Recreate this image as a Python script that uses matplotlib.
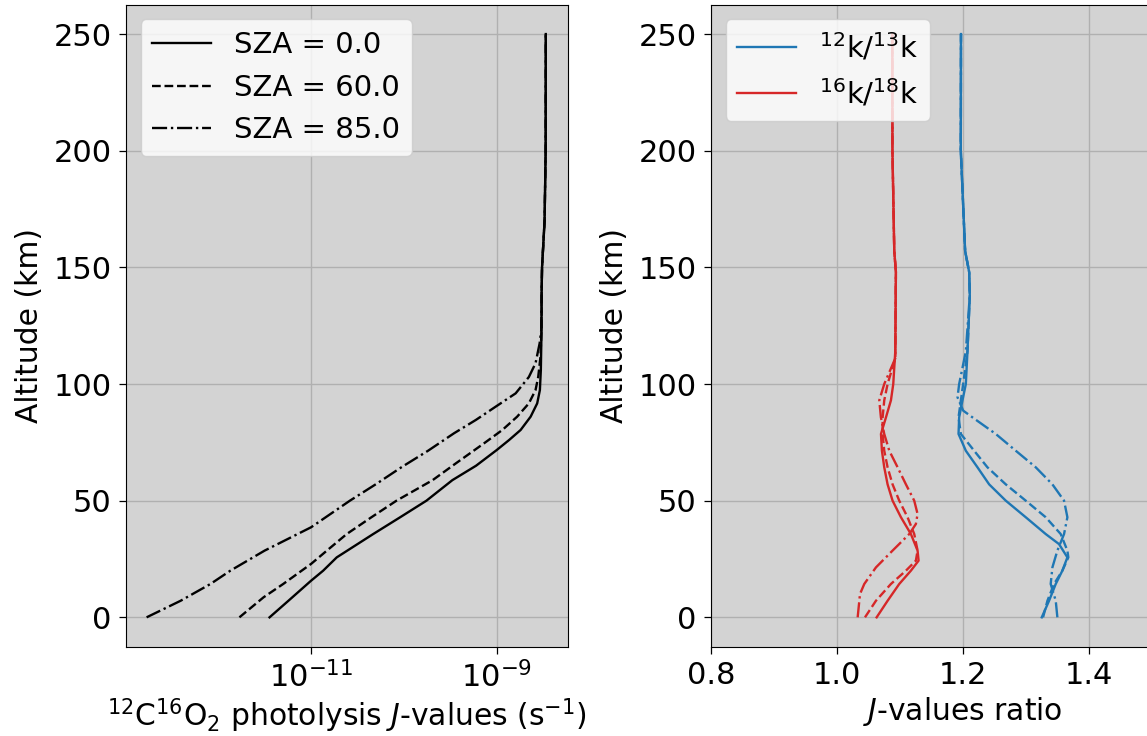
import matplotlib
matplotlib.use("Agg")
import matplotlib.pyplot as plt
from matplotlib.ticker import FixedLocator, NullLocator
from matplotlib.lines import Line2D

# ---------------- Left panel data: J-values (s^-1) vs altitude (km) ----------------
alt_sza0 = [0, 7.1, 15.7, 20, 25.7, 35.7, 42.9, 50, 58.8, 65, 71.7, 76, 80.3, 86, 91.7,
            97.4, 106, 123, 140, 150, 170, 200, 250]
j_sza0 = [3.57e-12, 5.70e-12, 1.00e-11, 1.35e-11, 1.89e-11, 4.67e-11, 9.12e-11, 1.75e-10,
          3.33e-10, 6.00e-10, 1.00e-9, 1.36e-9, 1.81e-9, 2.32e-9, 2.73e-9,
          2.92e-9, 2.99e-9, 3.04e-9, 3.05e-9, 3.08e-9, 3.28e-9, 3.37e-9, 3.38e-9]

alt_sza60 = [0, 8.6, 14.3, 22.9, 28.6, 35.7, 42.9, 50, 58.8, 66, 74.6, 80.3, 86, 91.7,
             97.4, 103, 111.6, 123, 140, 150, 170, 200, 250]
j_sza60 = [1.69e-12, 3.08e-12, 5.01e-12, 1.00e-11, 1.48e-11, 2.42e-11, 4.47e-11, 8.32e-11,
           2.04e-10, 3.63e-10, 7.31e-10, 1.15e-9, 1.66e-9, 2.22e-9,
           2.62e-9, 2.80e-9, 2.96e-9, 3.04e-9, 3.05e-9, 3.08e-9, 3.28e-9, 3.37e-9, 3.38e-9]

alt_sza85 = [0, 7.1, 14.3, 20, 28.6, 38.6, 50, 57.1, 64.5, 71.4, 78.9, 84.6, 90.3, 96,
             103, 108.9, 117.4, 123, 140, 150, 170, 200, 250]
j_sza85 = [1.69e-13, 3.93e-13, 8.24e-13, 1.35e-12, 3.16e-12, 1.00e-11, 2.62e-11, 5.01e-11,
           9.55e-11, 1.82e-10, 3.47e-10, 5.96e-10, 9.75e-10, 1.60e-9,
           2.22e-9, 2.62e-9, 2.90e-9, 3.02e-9, 3.05e-9, 3.08e-9, 3.28e-9, 3.37e-9, 3.38e-9]

# ---------------- Right panel data: J-value ratios vs altitude (km) ----------------
# 16k/18k (red)
alt_r0 = [0, 7.1, 14.3, 20, 24.3, 28.6, 35.7, 42.9, 50, 57, 64.3, 71.4, 78.6, 85.7, 93,
          100, 114, 148, 157, 200, 250]
r16_sza0 = [1.0629, 1.0803, 1.0988, 1.1173, 1.1295, 1.1279, 1.1173, 1.1015, 1.0882, 1.0803,
            1.0750, 1.0713, 1.0698, 1.0777, 1.0856, 1.0893, 1.0925, 1.0935, 1.0909, 1.0880, 1.0878]
alt_r60 = [0, 7.1, 14.3, 20, 24.3, 28.6, 35.7, 42.9, 50, 57, 64.3, 71.4, 78.6, 85.7, 93,
           100, 111, 148, 157, 200, 250]
r16_sza60 = [1.0444, 1.0618, 1.0856, 1.1094, 1.1252, 1.1279, 1.1226, 1.1120, 1.0988, 1.0882,
             1.0803, 1.0750, 1.0724, 1.0724, 1.0750, 1.0803, 1.0925, 1.0935, 1.0909, 1.0880, 1.0878]
alt_r85 = [0, 10, 14.3, 21.4, 28.6, 35.7, 40, 44.3, 50, 57, 64.3, 71.4, 78.6, 85.7, 93,
           100, 111, 148, 157, 200, 250]
r16_sza85 = [1.0328, 1.0365, 1.0433, 1.0618, 1.0882, 1.1147, 1.1252, 1.1279, 1.1226, 1.1094,
             1.0962, 1.0830, 1.0750, 1.0697, 1.0671, 1.0750, 1.0925, 1.0935, 1.0909, 1.0880, 1.0878]

# 12k/13k (blue)
alt_b0 = [0, 7.1, 14.3, 20, 25.7, 31.4, 35.7, 42.9, 50, 57, 64.3, 71.4, 78.6, 85.7, 93,
          100, 114, 138, 148, 157, 200, 250]
r12_sza0 = [1.3250, 1.3366, 1.3472, 1.3577, 1.3657, 1.3524, 1.3313, 1.2996, 1.2679, 1.2415,
            1.2230, 1.2045, 1.1929, 1.1939, 1.1992, 1.2045, 1.2071, 1.2108, 1.2098, 1.2034,
            1.1965, 1.1968]
alt_b60 = [0, 7.1, 14.3, 20, 25.7, 28.6, 35.7, 42.9, 50, 57, 64.3, 71.4, 78.6, 85.7, 93,
           100, 114, 138, 148, 157, 200, 250]
r12_sza60 = [1.3271, 1.3340, 1.3445, 1.3577, 1.3672, 1.3657, 1.3551, 1.3313, 1.2996, 1.2679,
             1.2388, 1.2177, 1.1966, 1.1929, 1.1966, 1.2003, 1.2071, 1.2108, 1.2098, 1.2034,
             1.1965, 1.1968]
alt_b85 = [0, 7.1, 14.3, 21.4, 28.6, 35.7, 42.9, 50, 57, 64.3, 71.4, 78.6, 85.7, 88.6, 94.3,
           100, 114, 138, 148, 157, 200, 250]
r12_sza85 = [1.3498, 1.3472, 1.3392, 1.3419, 1.3498, 1.3604, 1.3657, 1.3604, 1.3419, 1.3155,
             1.2838, 1.2520, 1.2151, 1.2003, 1.1913, 1.1939, 1.2045, 1.2108, 1.2098, 1.2034,
             1.1965, 1.1968]

sza_labels = ["SZA = 0.0", "SZA = 60.0", "SZA = 85.0"]
ratio_labels = [r"$^{12}$k/$^{13}$k", r"$^{16}$k/$^{18}$k"]
y_ticks = [0, 50, 100, 150, 200, 250]
left_xticks = [1e-11, 1e-9]
right_xticks = [0.8, 1.0, 1.2, 1.4]

FS_TICK = 22
FS_LAB = 21.4
FS_LEG = 21
plt.rcParams['font.family'] = ['DejaVu Sans']
plt.rcParams['mathtext.fontset'] = 'dejavusans'

W, H = 1147, 736
fig = plt.figure(figsize=(W / 100, H / 100), dpi=100)
bottom = (H - 646.5) / H
height = 641.6 / H
ax1 = fig.add_axes([126 / W, bottom, (567.7 - 126) / W, height])
ax2 = fig.add_axes([711 / W, bottom, 504 / W, height])

bg = '#d3d3d3'
styles = ['-', '--', '-.']
lw = 1.7

for ax in (ax1, ax2):
    ax.set_facecolor(bg)
    ax.grid(True, color='#b0b0b0', lw=1.0)
    ax.set_axisbelow(True)
    ax.set_ylim(-12.5, 262.5)
    ax.yaxis.set_major_locator(FixedLocator(y_ticks))
    ax.tick_params(axis='both', which='major', labelsize=FS_TICK, length=5.3, width=0.9, pad=5)
    ax.set_ylabel("Altitude (km)", fontsize=FS_LAB, labelpad=7)

# Left panel
ax1.plot(j_sza0, alt_sza0, color='black', ls=styles[0], lw=lw, label=sza_labels[0])
ax1.plot(j_sza60, alt_sza60, color='black', ls=styles[1], lw=lw, label=sza_labels[1])
ax1.plot(j_sza85, alt_sza85, color='black', ls=styles[2], lw=lw, label=sza_labels[2])
ax1.set_xscale('log')
ax1.set_xlim(10 ** -12.994, 10 ** -8.235)
ax1.xaxis.set_major_locator(FixedLocator(left_xticks))
ax1.xaxis.set_minor_locator(NullLocator())
ax1.set_xlabel(r"$^{12}$C$^{16}$O$_2$ photolysis $J$-values (s$^{-1}$)", fontsize=FS_LAB,
               labelpad=2)
ax1.legend(loc='upper left', fontsize=FS_LEG)

# Right panel
blue = '#1f77b4'
red = '#d62728'
ax2.plot(r12_sza0, alt_b0, color=blue, ls=styles[0], lw=lw)
ax2.plot(r12_sza60, alt_b60, color=blue, ls=styles[1], lw=lw)
ax2.plot(r12_sza85, alt_b85, color=blue, ls=styles[2], lw=lw)
ax2.plot(r16_sza0, alt_r0, color=red, ls=styles[0], lw=lw)
ax2.plot(r16_sza60, alt_r60, color=red, ls=styles[1], lw=lw)
ax2.plot(r16_sza85, alt_r85, color=red, ls=styles[2], lw=lw)
ax2.set_xlim(0.8, 1.6)
ax2.xaxis.set_major_locator(FixedLocator(right_xticks))
ax2.set_xticklabels([f"{v:.1f}" for v in right_xticks])
ax2.set_xlabel(r"$J$-values ratio", fontsize=FS_LAB, labelpad=4)
handles = [Line2D([], [], color=blue, lw=lw), Line2D([], [], color=red, lw=lw)]
ax2.legend(handles, ratio_labels, loc='upper left', fontsize=FS_LEG)

fig.savefig("out.png", dpi=100)
